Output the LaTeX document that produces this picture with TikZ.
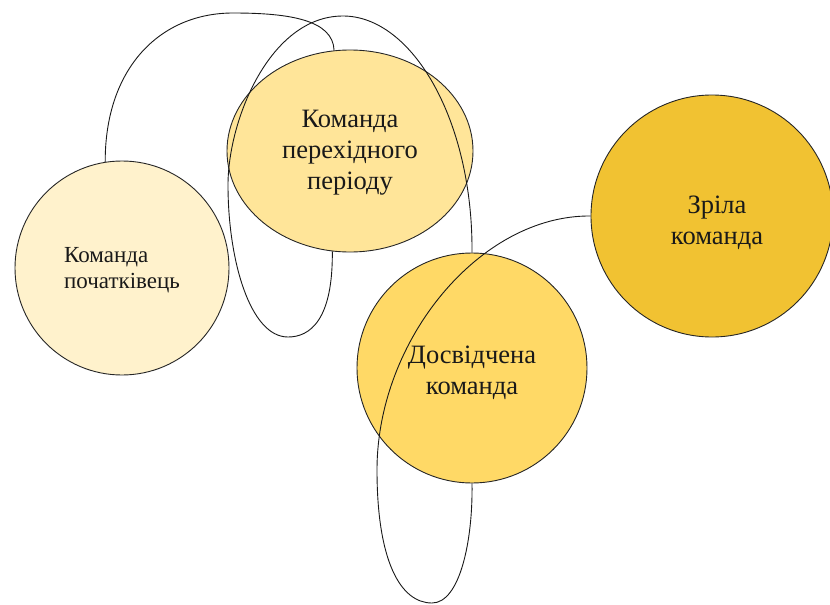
\documentclass[tikz,border=0pt]{standalone}
\usepackage{fontspec}
\setmainfont{Liberation Serif}
\usetikzlibrary{shapes.geometric}
\definecolor{yelA}{HTML}{FFF2CC}
\definecolor{yelB}{HTML}{FFE599}
\definecolor{yelC}{HTML}{FFD966}
\definecolor{yelD}{HTML}{F1C232}
\begin{document}
\begin{tikzpicture}[x=1pt,y=-1pt,
  stage/.style={draw=black!85, line width=0.9pt, inner sep=0pt},
  stagetext/.style={align=center, text=black!90, inner sep=0pt,
    font=\fontsize{26.5}{31}\selectfont},
  link/.style={draw=black!90, line width=0.9pt}]
\useasboundingbox (0,0) rectangle (830,605);
% team stages
\node[stage, circle, minimum size=214pt, fill=yelA,
  label={[stagetext, align=left, font=\fontsize{23}{26}\selectfont, yshift=-2pt]center:{Команда\\початківець}}]
  (novice) at (122,268) {};
\node[stage, ellipse, minimum width=246pt, minimum height=202pt, fill=yelB,
  label={[stagetext, yshift=-2pt]center:{Команда\\перехідного\\періоду}}]
  (transit) at (350,151) {};
\node[stage, circle, minimum size=230pt, fill=yelC,
  label={[stagetext, yshift=-5pt]center:{Досвідчена\\команда}}]
  (skilled) at (472,368) {};
\node[stage, circle, minimum size=242pt, fill=yelD,
  label={[stagetext, xshift=5pt, yshift=-7pt]center:{Зріла\\команда}}]
  (mature) at (712,216) {};
% curved connectors
\draw[link] (novice.99) .. controls (105,68) and (160,13) .. (233,13)
  .. controls (290,13) and (333,20) .. (transit.99);
\draw[link] (transit.260) .. controls (333,320) and (310,337) .. (288,337)
  .. controls (250,337) and (228,260) .. (228,185)
  .. controls (228,120) and (270,16) .. (343,16)
  .. controls (412,16) and (473,120) .. (skilled.90);
\draw[link] (mature.180) .. controls (480,215) and (377,340) .. (377,470)
  .. controls (377,560) and (400,603) .. (432,603)
  .. controls (460,603) and (473,540) .. (skilled.270);
\end{tikzpicture}
\end{document}
